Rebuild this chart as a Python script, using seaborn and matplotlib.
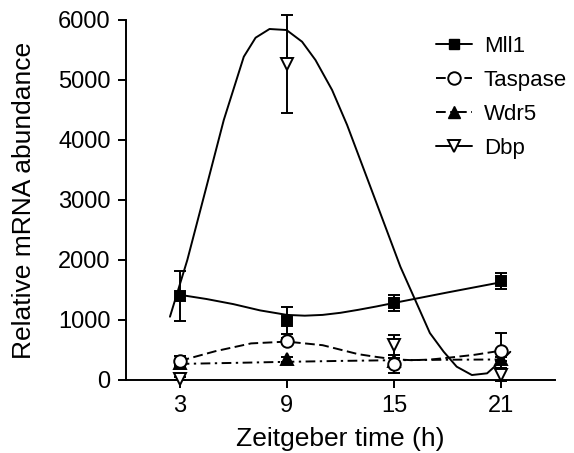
import matplotlib
matplotlib.use("Agg")
import matplotlib.pyplot as plt
from matplotlib.lines import Line2D
import numpy as np
import pandas as pd
import seaborn as sns

# Sampling times (h) and measured means / SEM
zt = [3, 9, 15, 21]

mll1_mean = [1400, 990, 1280, 1650]
mll1_err = [420, 230, 130, 130]

taspase_mean = [317, 655, 265, 490]
taspase_err = [80, 50, 155, 290]

wdr5_mean = [290, 345, 320, 350]
wdr5_err = [30, 40, 40, 40]

dbp_mean = [25, 5262, 580, 90]
dbp_err = [20, 820, 170, 110]

# Fitted rhythm curves
mll1_fit_t = [3, 4.5, 6, 7.5, 9, 10, 11, 12, 13, 14, 15, 18, 21]
mll1_fit_v = [1420, 1350, 1265, 1160, 1085, 1072, 1085, 1120, 1170, 1225, 1285, 1460, 1630]

taspase_fit_t = [3, 5, 7, 9, 11, 13, 14, 15, 16, 17, 18, 19.5, 21]
taspase_fit_v = [317, 480, 610, 640, 580, 430, 385, 345, 330, 340, 370, 420, 490]

wdr5_fit_t = [3, 6, 9, 12, 15, 18, 21]
wdr5_fit_v = [268, 285, 303, 318, 330, 338, 342]

dbp_fit_t = [2.46, 3.43, 4.5, 5.47, 6.59, 7.25, 8.03, 8.98, 9.85, 10.6, 11.53, 12.37,
             13.95, 15.35, 16.18, 17.0, 17.77, 18.5, 19.35, 20.2, 21.03, 21.5]
dbp_fit_v = [1055, 2000, 3220, 4333, 5388, 5705, 5850, 5833, 5638, 5333, 4833, 4250,
             3000, 1888, 1333, 783, 472, 222, 83, 111, 333, 470]

sns.set_theme(style="ticks")
plt.rcParams["font.family"] = ["Liberation Sans", "DejaVu Sans"]
plt.rcParams["text.color"] = "black"

fig = plt.figure(figsize=(5.74, 4.53), dpi=100)
ax = fig.add_axes([126 / 574, 73 / 453, (555 - 126) / 574, 360 / 453])

lw = 1.4
dash = (5, 2.3)
dashdot = (5, 2.3, 1.2, 2.3)

curves = [
    (mll1_fit_t, mll1_fit_v, None),
    (taspase_fit_t, taspase_fit_v, dash),
    (wdr5_fit_t, wdr5_fit_v, dashdot),
    (dbp_fit_t, dbp_fit_v, None),
]
for t, v, dsh in curves:
    df = pd.DataFrame({"t": t, "v": v})
    sns.lineplot(data=df, x="t", y="v", ax=ax, color="black", linewidth=lw,
                 sort=False, estimator=None)
    if dsh is not None:
        ax.lines[-1].set_dashes(dsh)

# Wdr5 drawn first so the open markers sit on top of it
points = [
    (wdr5_mean, wdr5_err, "^", 8, "black"),
    (mll1_mean, mll1_err, "s", 6.5, "black"),
    (taspase_mean, taspase_err, "o", 9, "white"),
    (dbp_mean, dbp_err, "v", 8.5, "white"),
]
for mean, err, mk, ms, fc in points:
    ax.errorbar(zt, mean, yerr=err, fmt=mk, ms=ms, mfc=fc, mec="black", mew=lw,
                ecolor="black", elinewidth=lw, capsize=4.3, capthick=lw,
                color="black", clip_on=False, zorder=3)

ax.set_xlim(0, 24)
ax.set_ylim(0, 6000)
ax.set_xticks(zt)
ax.set_yticks(range(0, 6001, 1000))
ax.tick_params(axis="both", labelsize=17, length=6, width=lw, color="black",
               direction="out", pad=5, labelcolor="black")
for side in ["left", "bottom"]:
    ax.spines[side].set_linewidth(lw)
    ax.spines[side].set_color("black")
sns.despine(ax=ax)

ax.set_xlabel("Zeitgeber time (h)", fontsize=19, color="black", labelpad=7)
ax.set_ylabel("Relative mRNA abundance", fontsize=19, color="black", labelpad=16)

handles = [
    Line2D([], [], color="black", lw=lw, ls="-", marker="s", ms=6.5, mfc="black", mec="black"),
    Line2D([], [], color="black", lw=lw, ls=(0, dash), marker="o", ms=9, mfc="white", mec="black", mew=lw),
    Line2D([], [], color="black", lw=lw, ls=(0, dashdot), marker="^", ms=8, mfc="black", mec="black"),
    Line2D([], [], color="black", lw=lw, ls="-", marker="v", ms=8.5, mfc="white", mec="black", mew=lw),
]
labels = ["Mll1", "Taspase", "Wdr5", "Dbp"]
fig.legend(handles, labels, loc="upper left", bbox_to_anchor=(436 / 574, 1 - 36 / 453),
           frameon=False, fontsize=16, handlelength=1.6, handletextpad=0.55,
           labelspacing=0.58, borderpad=0, borderaxespad=0, labelcolor="black")

fig.savefig("out.png", dpi=100)
